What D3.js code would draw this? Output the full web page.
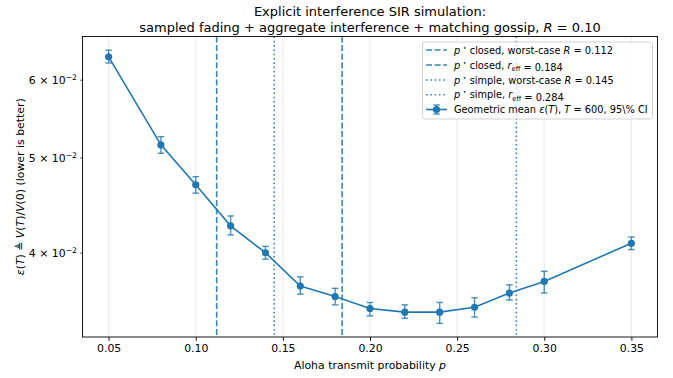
<!DOCTYPE html>
<html>
<head>
<meta charset="utf-8">
<script src="https://cdn.jsdelivr.net/npm/d3@7"></script>
<style>
  body { margin: 0; background: #fff; }
  svg { font-family: "DejaVu Sans", sans-serif; }
</style>
</head>
<body>
<div id="chart"></div>
<script>
// transmit probabilities and geometric-mean energy ratio with 95% CI
var pVals   = [0.05, 0.08, 0.10, 0.12, 0.14, 0.16, 0.18, 0.20, 0.22, 0.24, 0.26, 0.28, 0.30, 0.35];
var geoMean = [0.0633, 0.0515, 0.0469, 0.0426, 0.0400, 0.0370, 0.0361, 0.0351, 0.0348, 0.0348, 0.0352, 0.0364, 0.0374, 0.0409];
var ciLow   = [0.0624, 0.0505, 0.0460, 0.0417, 0.0394, 0.0363, 0.0354, 0.0345, 0.0343, 0.0339, 0.0344, 0.0358, 0.0364, 0.0403];
var ciHigh  = [0.0643, 0.0525, 0.0478, 0.0436, 0.0406, 0.0378, 0.0368, 0.0356, 0.0354, 0.0356, 0.0360, 0.0371, 0.0383, 0.0415];

// optimal p lines
var refNames = ["closed, worst-case", "closed, eff", "simple, worst-case", "simple, eff"];
var refP     = [0.112, 0.184, 0.145, 0.284];
var refStyle = ["dashed", "dashed", "dotted", "dotted"];

var xTicks = [0.05, 0.10, 0.15, 0.20, 0.25, 0.30, 0.35];
var yTicks = [0.04, 0.05, 0.06];

var width = 673, height = 378;
var margin = { top: 36.5, right: 15.5, bottom: 41, left: 82.5 };
var blue = "#1f77b4";

var svg = d3.select("#chart").append("svg")
  .attr("width", width)
  .attr("height", height);

// matplotlib style 5% margins
var xPad = (d3.max(pVals) - d3.min(pVals)) * 0.05;
var xScale = d3.scaleLinear()
  .domain([d3.min(pVals) - xPad, d3.max(pVals) + xPad])
  .range([margin.left, width - margin.right]);

var lo = Math.log10(d3.min(ciLow)), hi = Math.log10(d3.max(ciHigh));
var yPad = (hi - lo) * 0.05;
var yScale = d3.scaleLog()
  .domain([Math.pow(10, lo - yPad), Math.pow(10, hi + yPad)])
  .range([height - margin.bottom, margin.top]);

var bottomY = height - margin.bottom;

// vertical grid
svg.append("g").selectAll("line")
  .data(xTicks).enter().append("line")
  .attr("x1", d => xScale(d)).attr("x2", d => xScale(d))
  .attr("y1", margin.top).attr("y2", bottomY)
  .attr("stroke", "#b0b0b0").attr("stroke-opacity", 0.3).attr("stroke-width", 0.9);

// reference lines
svg.append("g").selectAll("line")
  .data(refP).enter().append("line")
  .attr("x1", d => xScale(d)).attr("x2", d => xScale(d))
  .attr("y1", margin.top).attr("y2", bottomY)
  .attr("stroke", blue).attr("stroke-opacity", 0.9).attr("stroke-width", 1.6)
  .attr("stroke-dasharray", (d, i) => refStyle[i] == "dashed" ? "6,2.6" : "1.6,2.7");

// connecting line
var pts = pVals.map((p, i) => ({ p: p, m: geoMean[i], l: ciLow[i], h: ciHigh[i] }));
svg.append("path")
  .datum(pts)
  .attr("fill", "none")
  .attr("stroke", blue)
  .attr("stroke-width", 1.6)
  .attr("d", d3.line().x(d => xScale(d.p)).y(d => yScale(d.m)));

// error bars
var eb = svg.append("g").attr("stroke", blue).attr("stroke-opacity", 0.8).attr("stroke-width", 1.4);
eb.selectAll(".v").data(pts).enter().append("line")
  .attr("x1", d => xScale(d.p)).attr("x2", d => xScale(d.p))
  .attr("y1", d => yScale(d.l)).attr("y2", d => yScale(d.h));
eb.selectAll(".ct").data(pts).enter().append("line")
  .attr("x1", d => xScale(d.p) - 3.3).attr("x2", d => xScale(d.p) + 3.3)
  .attr("y1", d => yScale(d.h)).attr("y2", d => yScale(d.h));
eb.selectAll(".cb").data(pts).enter().append("line")
  .attr("x1", d => xScale(d.p) - 3.3).attr("x2", d => xScale(d.p) + 3.3)
  .attr("y1", d => yScale(d.l)).attr("y2", d => yScale(d.l));

// markers
svg.append("g").selectAll("circle")
  .data(pts).enter().append("circle")
  .attr("cx", d => xScale(d.p))
  .attr("cy", d => yScale(d.m))
  .attr("r", 3.6)
  .attr("fill", blue);

// axes frame
svg.append("rect")
  .attr("x", margin.left).attr("y", margin.top)
  .attr("width", width - margin.right - margin.left)
  .attr("height", bottomY - margin.top)
  .attr("fill", "none").attr("stroke", "#000").attr("stroke-width", 0.9);

// x axis
var xAxis = svg.append("g")
  .attr("transform", `translate(0,${bottomY})`)
  .call(d3.axisBottom(xScale).tickValues(xTicks).tickFormat(d3.format(".2f")).tickSize(3.8).tickPadding(3.8));
xAxis.select(".domain").remove();
xAxis.selectAll("text").attr("font-size", 10.9).attr("fill", "#000").attr("font-family", "DejaVu Sans");
xAxis.selectAll("line").attr("stroke-width", 0.9);

// y axis (log, minor ticks labelled)
var yAxis = svg.append("g")
  .attr("transform", `translate(${margin.left},0)`)
  .call(d3.axisLeft(yScale).tickValues(yTicks).tickFormat("").tickSize(2.2));
yAxis.select(".domain").remove();
yAxis.selectAll("line").attr("stroke-width", 0.7);
yAxis.selectAll(".tick").each(function(d) {
  var t = d3.select(this).append("text")
    .attr("x", -5.5).attr("dy", "0.32em")
    .attr("text-anchor", "end")
    .attr("font-size", 10.9).attr("fill", "#000")
    .attr("font-family", "DejaVu Sans");
  t.append("tspan").text(Math.round(d * 100) + " \u00d7 10");
  t.append("tspan").attr("dy", "-0.45em").attr("font-size", 7.7).text("\u22122");
});

// title
var title = svg.append("text")
  .attr("text-anchor", "middle")
  .attr("font-size", 13)
  .attr("fill", "#000");
var cx = (margin.left + width - margin.right) / 2;
title.append("tspan").attr("x", cx).attr("y", 15.5).text("Explicit interference SIR simulation:");
var t2 = title.append("tspan").attr("x", cx).attr("y", 32);
t2.append("tspan").text("sampled fading + aggregate interference + matching gossip, ");
t2.append("tspan").attr("font-style", "italic").text("R");
t2.append("tspan").text(" = 0.10");

// x label
var xl = svg.append("text")
  .attr("x", cx).attr("y", 369)
  .attr("text-anchor", "middle").attr("font-size", 10.9);
xl.append("tspan").text("Aloha transmit probability ");
xl.append("tspan").attr("font-style", "italic").text("p");

// y label
var yl = svg.append("text")
  .attr("transform", `translate(24,${(margin.top + bottomY) / 2}) rotate(-90)`)
  .attr("text-anchor", "middle").attr("font-size", 10.9);
yl.append("tspan").attr("font-style", "italic").text("\u03b5");
yl.append("tspan").text("(");
yl.append("tspan").attr("font-style", "italic").text("T");
yl.append("tspan").text(") \u225c ");
yl.append("tspan").attr("font-style", "italic").text("V");
yl.append("tspan").text("(");
yl.append("tspan").attr("font-style", "italic").text("T");
yl.append("tspan").text(")/");
yl.append("tspan").attr("font-style", "italic").text("V");
yl.append("tspan").text("(0) (lower is better)");

// legend
var lg = svg.append("g");
lg.append("rect")
  .attr("x", 422.5).attr("y", 42).attr("width", 230).attr("height", 77)
  .attr("rx", 2.5)
  .attr("fill", "#fff").attr("fill-opacity", 0.8)
  .attr("stroke", "#cccccc").attr("stroke-width", 0.9);

var rowY = [50, 65, 80, 94.7, 109.5];
var legendVals = [0.112, 0.184, 0.145, 0.284];
refNames.forEach(function(name, i) {
  var y = rowY[i];
  lg.append("line")
    .attr("x1", 426).attr("x2", 447).attr("y1", y).attr("y2", y)
    .attr("stroke", blue).attr("stroke-opacity", 0.9).attr("stroke-width", 1.6)
    .attr("stroke-dasharray", refStyle[i] == "dashed" ? "6,2.6" : "1.6,2.7");
  var t = lg.append("text").attr("x", 454).attr("y", y + 3.6).attr("font-size", 9.8);
  t.append("tspan").attr("font-style", "italic").text("p");
  t.append("tspan").attr("dy", -4).attr("font-size", 6.8).text(" \u22c6");
  var parts = name.split(", ");
  t.append("tspan").attr("dy", 4).text(" " + parts[0] + ", ");
  if (parts[1] == "worst-case") {
    t.append("tspan").text("worst-case ");
    t.append("tspan").attr("font-style", "italic").text("R");
  } else {
    t.append("tspan").attr("font-style", "italic").text("r");
    t.append("tspan").attr("dy", 2.2).attr("font-size", 6.8).text("eff");
    t.append("tspan").attr("dy", -2.2).text("");
  }
  t.append("tspan").text(" = " + legendVals[i].toFixed(3));
});

// errorbar legend entry
var ly = rowY[4];
lg.append("line").attr("x1", 426).attr("x2", 447).attr("y1", ly).attr("y2", ly)
  .attr("stroke", blue).attr("stroke-width", 1.6);
lg.append("line").attr("x1", 436.5).attr("x2", 436.5).attr("y1", ly - 4.5).attr("y2", ly + 4.5)
  .attr("stroke", blue).attr("stroke-opacity", 0.8).attr("stroke-width", 1.4);
[ly - 4.5, ly + 4.5].forEach(function(yy) {
  lg.append("line").attr("x1", 433.2).attr("x2", 439.8).attr("y1", yy).attr("y2", yy)
    .attr("stroke", blue).attr("stroke-opacity", 0.8).attr("stroke-width", 1.4);
});
lg.append("circle").attr("cx", 436.5).attr("cy", ly).attr("r", 3.6).attr("fill", blue);
var lt = lg.append("text").attr("x", 454).attr("y", ly + 3.6).attr("font-size", 9.8);
lt.append("tspan").text("Geometric mean ");
lt.append("tspan").attr("font-style", "italic").text("\u03b5");
lt.append("tspan").text("(");
lt.append("tspan").attr("font-style", "italic").text("T");
lt.append("tspan").text("), ");
lt.append("tspan").attr("font-style", "italic").text("T");
lt.append("tspan").text(" = 600, 95\\% CI");
</script>
</body>
</html>
